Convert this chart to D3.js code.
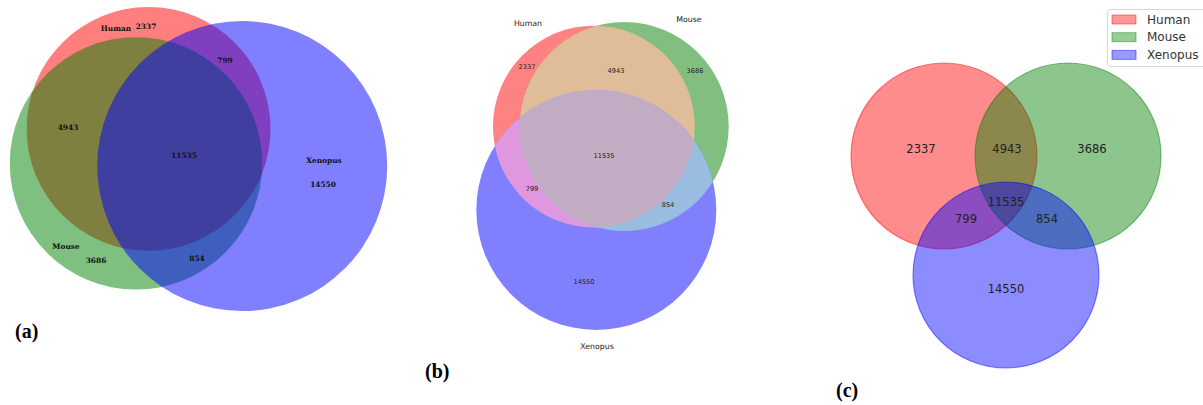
<!DOCTYPE html>
<html lang="en">
<head>
<meta charset="utf-8" />
<script src="https://d3js.org/d3.v7.min.js"></script>
<style>
  body { margin: 0; background: #fff; }
  svg { display: block; }
</style>
</head>
<body>
<svg id="chart" width="1203" height="405"></svg>
<script>
// data: three gene sets and the seven region counts
const sets = ['Human', 'Mouse', 'Xenopus'];
const regionKeys = ['100', '010', '001', '110', '101', '011', '111'];
const regionCounts = [2337, 3686, 14550, 4943, 799, 854, 11535];
const panelNames = ['(a)', '(b)', '(c)'];

const setTotal = sets.map((s, i) =>
  d3.sum(regionKeys, (k, n) => (k[i] === '1' ? regionCounts[n] : 0)));
const pairOverlap = (i, j) =>
  d3.sum(regionKeys, (k, n) => (k[i] === '1' && k[j] === '1' ? regionCounts[n] : 0));

// layout of the three panels
const panels = [
  { weighted: true, rMax: 145, angle: 110, mirror: -1, cx: 198.5, cy: 159,
    style: 'stack', opacity: 0.5, stroke: false,
    font: 'DejaVu Serif', weight: 'bold', numSize: 7.4, setSize: 7.4, textColor: '#111',
    nums: [[146, 26], [96, 260], [323, 184], [68, 127], [225, 60], [197, 258], [184, 155]],
    setPos: [[116, 28], [66, 246], [324, 160]],
    tag: [15, 338] },
  { weighted: true, rMax: 120, angle: 0, mirror: 1, cx: 602.5, cy: 176,
    style: 'regions',
    fills: ['#ff8282', '#80bf80', '#8080ff', '#e0bd99', '#df97df', '#99bde0', '#c1acc3'],
    font: 'DejaVu Sans', weight: 'normal', numSize: 6.6, setSize: 7.8, textColor: '#222',
    nums: [[527, 67], [695, 71], [584, 282], [616, 71], [532, 189], [668, 205], [604, 156]],
    setPos: [[528, 23], [689, 19], [597, 346]],
    tag: [425, 378] },
  { weighted: false, r: 93, gap: 0.667, drop: 1.28, cx: 1006, cy: 215.5,
    style: 'stack', opacity: 0.45, stroke: true,
    font: 'DejaVu Sans', weight: 'normal', numSize: 11.5, textColor: '#222',
    nums: [[921, 149], [1092, 149], [1006, 289], [1007, 149], [966, 219], [1047, 219], [1006, 202]],
    setPos: null,
    tag: [836, 397] }
];
const setColors = ['#ff0000', '#008000', '#0000ff'];

function lensArea(r1, r2, d) {
  if (d >= r1 + r2) return 0;
  if (d <= Math.abs(r1 - r2)) return Math.PI * Math.min(r1, r2) ** 2;
  const a = r1 * r1 * Math.acos((d * d + r1 * r1 - r2 * r2) / (2 * d * r1));
  const b = r2 * r2 * Math.acos((d * d + r2 * r2 - r1 * r1) / (2 * d * r2));
  const c = 0.5 * Math.sqrt((-d + r1 + r2) * (d + r1 - r2) * (d - r1 + r2) * (d + r1 + r2));
  return a + b - c;
}
function solveDist(r1, r2, area) {
  let lo = Math.abs(r1 - r2) + 1e-6, hi = r1 + r2;
  for (let it = 0; it < 60; it++) {
    const mid = (lo + hi) / 2;
    if (lensArea(r1, r2, mid) > area) lo = mid; else hi = mid;
  }
  return (lo + hi) / 2;
}

function layout(p) {
  let radii, local;
  if (p.weighted) {
    const rScale = d3.scaleSqrt().domain([0, d3.max(setTotal)]).range([0, p.rMax]);
    radii = setTotal.map(rScale);
    const perCount = Math.PI * radii[0] ** 2 / setTotal[0];
    const dAB = solveDist(radii[0], radii[1], pairOverlap(0, 1) * perCount);
    const dAC = solveDist(radii[0], radii[2], pairOverlap(0, 2) * perCount);
    const dBC = solveDist(radii[1], radii[2], pairOverlap(1, 2) * perCount);
    const x = (dAB * dAB + dAC * dAC - dBC * dBC) / (2 * dAB);
    local = [[0, 0], [dAB, 0], [x, Math.sqrt(Math.max(0, dAC * dAC - x * x))]];
  } else {
    radii = sets.map(() => p.r);
    local = [[-p.gap * p.r, 0], [p.gap * p.r, 0], [0, p.drop * p.r]];
  }
  const t = (p.angle || 0) * Math.PI / 180, s = p.mirror || 1;
  const pts = local.map(([x, y]) => [x * Math.cos(t) - s * y * Math.sin(t),
                                     x * Math.sin(t) + s * y * Math.cos(t)]);
  const x0 = d3.min(pts, (q, i) => q[0] - radii[i]), x1 = d3.max(pts, (q, i) => q[0] + radii[i]);
  const y0 = d3.min(pts, (q, i) => q[1] - radii[i]), y1 = d3.max(pts, (q, i) => q[1] + radii[i]);
  const dx = p.cx - (x0 + x1) / 2, dy = p.cy - (y0 + y1) / 2;
  return sets.map((name, i) => ({ name, i, x: pts[i][0] + dx, y: pts[i][1] + dy, r: radii[i] }));
}

const svg = d3.select('#chart');
const defs = svg.append('defs');

panels.forEach((p, pi) => {
  const circles = layout(p);
  const g = svg.append('g');

  if (p.style === 'stack') {
    g.selectAll('circle')
      .data(circles)
      .enter()
      .append('circle')
      .attr('cx', d => d.x)
      .attr('cy', d => d.y)
      .attr('r', d => d.r)
      .attr('fill', d => setColors[d.i])
      .attr('fill-opacity', p.opacity)
      .attr('stroke', d => (p.stroke ? setColors[d.i] : 'none'))
      .attr('stroke-opacity', 0.45)
      .attr('stroke-width', 1.2);
  } else {
    // paint each region with its own mixed colour
    circles.forEach(c => {
      defs.append('clipPath').attr('id', `clip-${pi}-${c.i}`)
        .append('circle').attr('cx', c.x).attr('cy', c.y).attr('r', c.r);
    });
    regionKeys.forEach((k, n) => {
      const members = circles.filter(c => k[c.i] === '1');
      let holder = g;
      members.slice(2).forEach(c => {
        holder = holder.append('g').attr('clip-path', `url(#clip-${pi}-${c.i})`);
      });
      const base = members[0];
      const el = holder.append('circle')
        .attr('cx', base.x).attr('cy', base.y).attr('r', base.r)
        .attr('fill', p.fills[n]);
      if (members[1]) el.attr('clip-path', `url(#clip-${pi}-${members[1].i})`);
    });
  }

  const txt = g.append('g')
    .attr('font-family', p.font)
    .attr('font-weight', p.weight)
    .attr('fill', p.textColor)
    .attr('text-anchor', 'middle');

  txt.selectAll('text.num')
    .data(regionCounts)
    .enter()
    .append('text')
    .attr('class', 'num')
    .attr('x', (d, n) => p.nums[n][0])
    .attr('y', (d, n) => p.nums[n][1])
    .attr('dy', '0.35em')
    .attr('font-size', p.numSize)
    .text(d => d);

  if (p.setPos) {
    txt.selectAll('text.set')
      .data(sets)
      .enter()
      .append('text')
      .attr('class', 'set')
      .attr('x', (d, n) => p.setPos[n][0])
      .attr('y', (d, n) => p.setPos[n][1])
      .attr('dy', '0.35em')
      .attr('font-size', p.setSize)
      .text(d => d);
  }

  svg.append('text')
    .attr('x', p.tag[0])
    .attr('y', p.tag[1])
    .attr('font-family', 'Liberation Serif')
    .attr('font-weight', 'bold')
    .attr('font-size', 20)
    .attr('fill', '#000')
    .text(panelNames[pi]);
});

// legend of panel (c)
const legend = svg.append('g').attr('transform', 'translate(1107,9)');
legend.append('rect')
  .attr('x', 0.5).attr('y', 0.5).attr('width', 100).attr('height', 57)
  .attr('rx', 3)
  .attr('fill', '#fff').attr('stroke', '#d6d6d6');
const rows = legend.selectAll('g.row')
  .data(sets)
  .enter()
  .append('g')
  .attr('class', 'row')
  .attr('transform', (d, i) => `translate(5,${6 + i * 17.7})`);
rows.append('rect')
  .attr('width', 24).attr('height', 9)
  .attr('fill', (d, i) => setColors[i]).attr('fill-opacity', 0.4)
  .attr('stroke', (d, i) => setColors[i]).attr('stroke-opacity', 0.45);
rows.append('text')
  .attr('x', 35).attr('y', 4.5).attr('dy', '0.35em')
  .attr('font-family', 'DejaVu Sans').attr('font-size', 12)
  .attr('fill', '#333')
  .text(d => d);
</script>
</body>
</html>
